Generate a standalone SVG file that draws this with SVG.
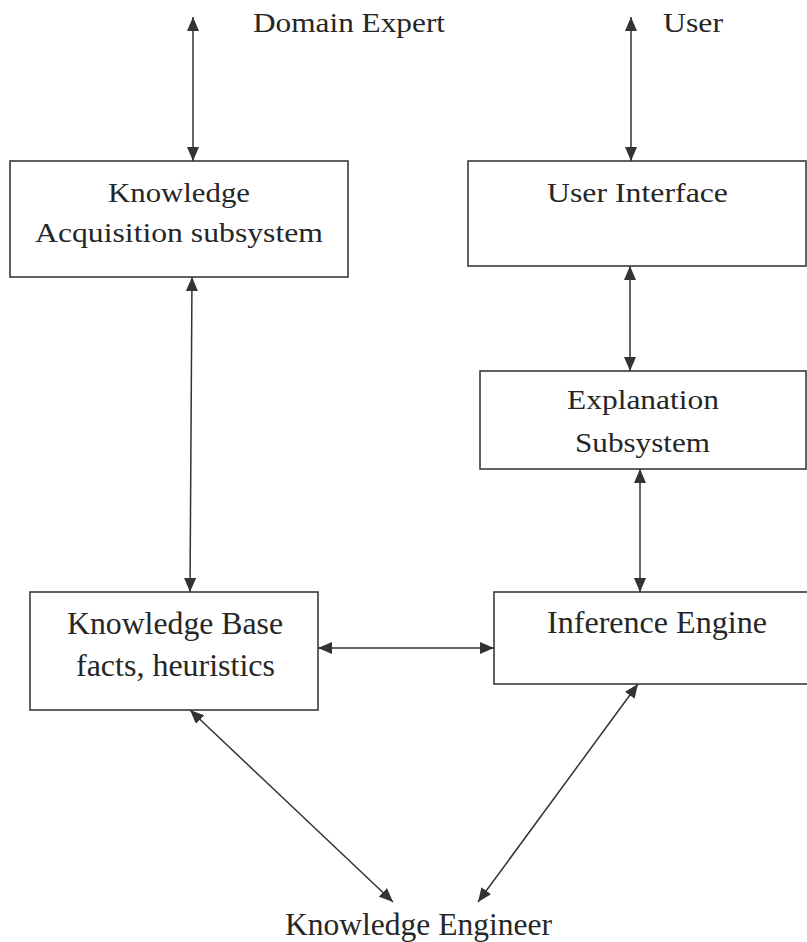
<svg xmlns="http://www.w3.org/2000/svg" width="807" height="942" viewBox="0 0 807 942">
  <style>
    .box { fill: #ffffff; stroke: #3a3a3a; stroke-width: 1.6; }
    .lbl { font-family: "Liberation Serif", "Times New Roman", serif; fill: #262626; }
    .top { font-size: 27px; }
    .low { font-size: 32px; }
    .link { stroke: #333333; stroke-width: 1.5; fill: none; marker-start: url(#head); marker-end: url(#head); }
  </style>
  <defs>
    <marker id="head" markerUnits="userSpaceOnUse" markerWidth="14" markerHeight="12" refX="14" refY="6" orient="auto-start-reverse">
      <path d="M0,0 L14,6 L0,12 Z" fill="#333333"/>
    </marker>
  </defs>
  <rect width="807" height="942" fill="#ffffff"/>

  <!-- external actors -->
  <g id="domain-expert">
    <text class="lbl top" x="253" y="32" textLength="192" lengthAdjust="spacingAndGlyphs">Domain Expert</text>
  </g>
  <g id="user">
    <text class="lbl top" x="663" y="32" textLength="60" lengthAdjust="spacingAndGlyphs">User</text>
  </g>
  <g id="knowledge-engineer">
    <text class="lbl low" x="285" y="935" textLength="267" lengthAdjust="spacingAndGlyphs">Knowledge Engineer</text>
  </g>

  <!-- subsystems -->
  <g id="knowledge-acquisition">
    <rect class="box" x="10" y="161" width="338" height="116"/>
    <text class="lbl top" x="108" y="202" textLength="142" lengthAdjust="spacingAndGlyphs">Knowledge</text>
    <text class="lbl top" x="35" y="242" textLength="288" lengthAdjust="spacingAndGlyphs">Acquisition subsystem</text>
  </g>
  <g id="user-interface">
    <rect class="box" x="468" y="161" width="338" height="105"/>
    <text class="lbl top" x="547" y="202" textLength="181" lengthAdjust="spacingAndGlyphs">User Interface</text>
  </g>
  <g id="explanation-subsystem">
    <rect class="box" x="480" y="371" width="326" height="98"/>
    <text class="lbl top" x="567" y="409" textLength="152" lengthAdjust="spacingAndGlyphs">Explanation</text>
    <text class="lbl top" x="575" y="452" textLength="135" lengthAdjust="spacingAndGlyphs">Subsystem</text>
  </g>
  <g id="knowledge-base">
    <rect class="box" x="30" y="592" width="288" height="118"/>
    <text class="lbl low" x="67" y="634" textLength="216" lengthAdjust="spacingAndGlyphs">Knowledge Base</text>
    <text class="lbl low" x="76" y="676" textLength="199" lengthAdjust="spacingAndGlyphs">facts, heuristics</text>
  </g>
  <g id="inference-engine">
    <rect class="box" x="494" y="592" width="320" height="92"/>
    <text class="lbl low" x="547" y="633" textLength="220" lengthAdjust="spacingAndGlyphs">Inference Engine</text>
  </g>

  <!-- two-way connectors -->
  <g id="connectors">
    <line class="link" x1="193" y1="17" x2="193" y2="161"/>
    <line class="link" x1="631" y1="17" x2="631" y2="161"/>
    <line class="link" x1="192" y1="277" x2="190" y2="592"/>
    <line class="link" x1="630" y1="266" x2="630" y2="371"/>
    <line class="link" x1="640" y1="469" x2="640" y2="592"/>
    <line class="link" x1="318" y1="648" x2="494" y2="648"/>
    <line class="link" x1="190" y1="710" x2="393" y2="902"/>
    <line class="link" x1="638" y1="684" x2="478" y2="902"/>
  </g>
</svg>
